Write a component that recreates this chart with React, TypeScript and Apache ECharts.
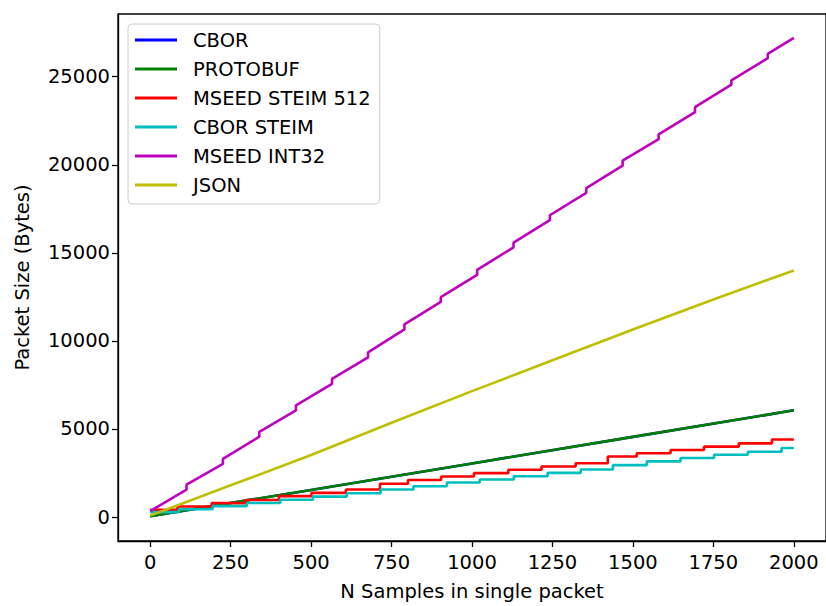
import React, { useEffect, useRef } from "react";
import * as echarts from "echarts";

const xTicks = [0, 250, 500, 750, 1000, 1250, 1500, 1750, 2000];
const yTicks = [0, 5000, 10000, 15000, 20000, 25000];

const cborData = [
  [0, 50], [500, 1540], [1000, 3045], [1500, 4550], [2000, 6060],
];
const protobufData = [
  [0, 50], [500, 1540], [1000, 3045], [1500, 4550], [2000, 6060],
];
// step levels: [sample where the level starts, bytes]
const mseedSteimData = [
  [0, 415], [85, 595], [191, 790], [296, 965], [400, 1190], [501, 1370],
  [608, 1560], [714, 1890], [801, 2100], [904, 2300], [1006, 2495],
  [1113, 2685], [1216, 2871], [1322, 3055], [1422, 3434], [1512, 3620],
  [1617, 3810], [1721, 3997], [1829, 4183], [1932, 4400], [2000, 4400],
];
const cborSteimData = [
  [0, 280], [89, 440], [194, 620], [300, 800], [404, 985], [506, 1160],
  [611, 1350], [716, 1560], [818, 1750], [922, 1960], [1024, 2130],
  [1130, 2320], [1235, 2510], [1338, 2700], [1438, 2950], [1543, 3160],
  [1648, 3350], [1752, 3540], [1857, 3710], [1962, 3920], [2000, 3920],
];
const mseedInt32Data = [
  [0, 340], [113, 1558], [113, 1839], [226, 3021], [226, 3303], [339, 4560],
  [339, 4842], [453, 6061], [453, 6343], [565, 7563], [565, 7845], [677, 9064],
  [677, 9346], [790, 10660], [790, 10941], [903, 12217], [903, 12480],
  [1016, 13755], [1016, 14036], [1129, 15314], [1129, 15577], [1242, 16852],
  [1242, 17134], [1355, 18410], [1355, 18673], [1468, 19948], [1468, 20229],
  [1580, 21450], [1580, 21732], [1693, 22989], [1693, 23271], [1806, 24547],
  [1806, 24791], [1919, 26049], [1919, 26292], [2000, 27200],
];
const jsonData = [
  [0, 80], [250, 1800], [500, 3520], [750, 5350], [1000, 7150],
  [1250, 8900], [1500, 10650], [1750, 12350], [2000, 14000],
];

const FONT = "DejaVu Sans";
const FS = 19.5;

export default function App() {
  const ref = useRef<HTMLDivElement>(null);
  useEffect(() => {
    if (!ref.current) return;
    const chart = echarts.init(ref.current, null, { renderer: "svg" });
    const lw = 2.6;
    const mk = (name: string, data: number[][], color: string, step?: string) => ({
      name,
      type: "line",
      data,
      step: step || false,
      symbol: "none",
      showSymbol: false,
      lineStyle: { color, width: lw },
      itemStyle: { color },
      emphasis: { disabled: true },
    });
    const plain = (v: number) => String(v);
    chart.setOption({
      animation: false,
      backgroundColor: "#ffffff",
      textStyle: { fontFamily: FONT },
      grid: {
        left: 118,
        top: 14,
        width: 712,
        height: 530,
        show: true,
        borderColor: "#000000",
        borderWidth: 1.3,
        backgroundColor: "transparent",
        containLabel: false,
      },
      legend: {
        orient: "vertical",
        left: 128,
        top: 24,
        icon: "rect",
        itemWidth: 42,
        itemHeight: 3,
        itemGap: 9,
        padding: [6, 9, 9, 7],
        backgroundColor: "rgba(255,255,255,0.8)",
        borderColor: "#cccccc",
        borderWidth: 1,
        borderRadius: 4,
        textStyle: {
          fontFamily: FONT,
          fontSize: FS,
          color: "#000000",
          lineHeight: 20,
          padding: [0, 0, 0, 11],
        },
        data: ["CBOR", "PROTOBUF", "MSEED STEIM 512", "CBOR STEIM", "MSEED INT32", "JSON"],
      },
      xAxis: {
        type: "value",
        min: -100,
        max: 2100,
        name: "N Samples in single packet",
        nameLocation: "middle",
        nameGap: 40,
        nameTextStyle: { fontFamily: FONT, fontSize: FS, color: "#000" },
        axisLine: { show: true, onZero: false, lineStyle: { color: "#000", width: 1.3 } },
        axisTick: { show: true, inside: false, length: 6, customValues: xTicks, lineStyle: { color: "#000", width: 1.3 } },
        axisLabel: { customValues: xTicks, formatter: plain, margin: 11, fontFamily: FONT, fontSize: FS, color: "#000" },
        splitLine: { show: false },
      },
      yAxis: {
        type: "value",
        min: -1360,
        max: 28560,
        name: "Packet Size (Bytes)",
        nameLocation: "middle",
        nameGap: 86,
        nameTextStyle: { fontFamily: FONT, fontSize: FS, color: "#000" },
        axisLine: { show: true, onZero: false, lineStyle: { color: "#000", width: 1.3 } },
        axisTick: { show: true, inside: false, length: 6, customValues: yTicks, lineStyle: { color: "#000", width: 1.3 } },
        axisLabel: { customValues: yTicks, formatter: plain, margin: 8, fontFamily: FONT, fontSize: FS, color: "#000" },
        splitLine: { show: false },
      },
      series: [
        mk("CBOR", cborData, "#0000ff"),
        mk("PROTOBUF", protobufData, "#008000"),
        mk("MSEED STEIM 512", mseedSteimData, "#ff0000", "end"),
        mk("CBOR STEIM", cborSteimData, "#00bfbf", "end"),
        mk("MSEED INT32", mseedInt32Data, "#bf00bf"),
        mk("JSON", jsonData, "#bfbf00"),
      ],
    });
    return () => chart.dispose();
  }, []);
  return (
    <div
      ref={ref}
      style={{ position: "absolute", left: 0, top: 0, width: 826, height: 606, overflow: "hidden" }}
    />
  );
}
